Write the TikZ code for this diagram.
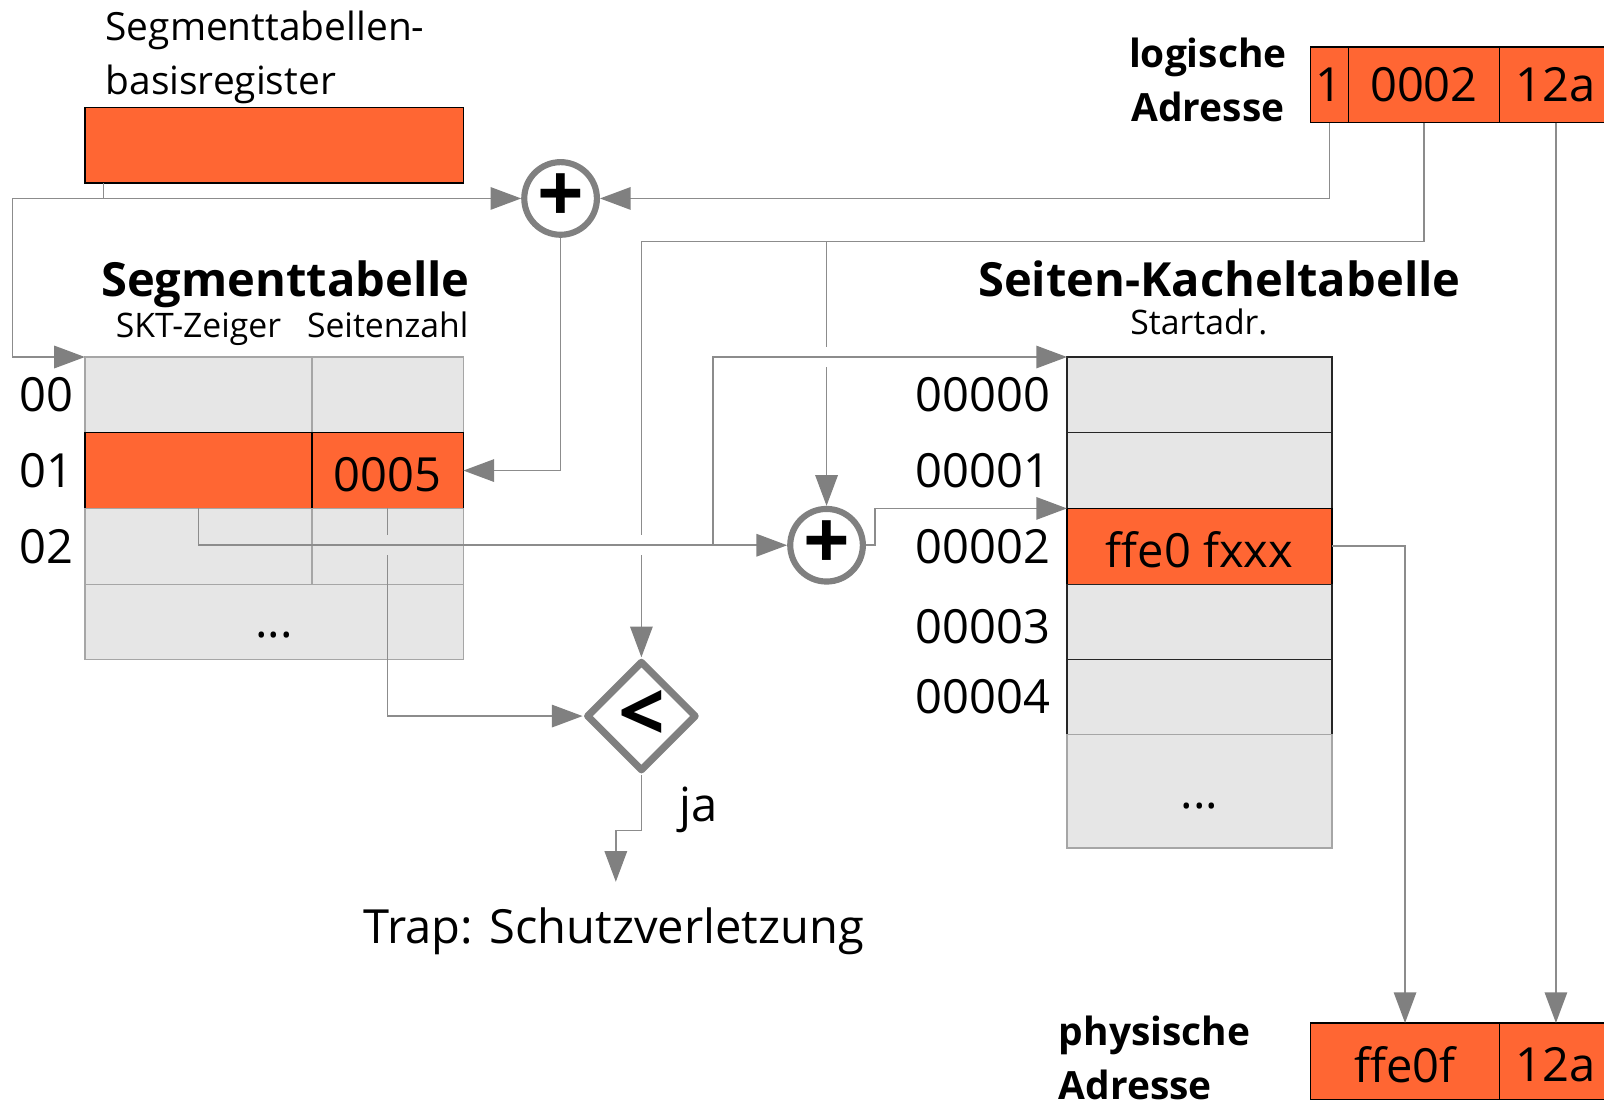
\documentclass[tikz,border=0pt]{standalone}
\usepackage{fontspec}
\setmainfont{Open Sans}
\usetikzlibrary{positioning,shapes.geometric,arrows.meta}

\definecolor{hotorange}{HTML}{FF6633}
\definecolor{linegray}{HTML}{8C8C8C}
\definecolor{tipgray}{HTML}{808080}
\definecolor{cellgray}{HTML}{E6E6E6}
\definecolor{edgegray}{HTML}{A6A6A6}

\newcommand\fbig{\fontsize{46}{55}\selectfont}
\newcommand\fmid{\fontsize{38}{53}\selectfont}
\newcommand\fsmall{\fontsize{33}{40}\selectfont}
\newcommand\fsym{\fontsize{80}{80}\selectfont\bfseries}

\begin{document}
\begin{tikzpicture}[x=1pt, y=-1pt,
    cell/.style={draw=edgegray, fill=cellgray, line width=1.2pt, inner sep=0pt, outer sep=0pt,
                 anchor=north west, minimum height=74pt, font=\fbig},
    hot/.style={cell, draw=black, fill=hotorange},
    pcell/.style={cell, draw=black!85},
    txt/.style={inner sep=0pt, font=\fbig},
    op/.style={circle, draw=tipgray, line width=6pt, fill=white, minimum size=71pt,
               inner sep=0pt, font=\fsym},
    cmpbox/.style={diamond, draw=tipgray, line width=7pt, line join=round, fill=white,
                   minimum width=108pt, minimum height=108pt, inner sep=0pt, font=\fsym},
    link/.style={draw=linegray, line width=1.5pt},
    arr/.style={-{Triangle[length=30pt,width=22pt,color=tipgray]}}]
    \useasboundingbox (0,0) rectangle (1568,1075);

    % register and logical address
    \node[hot, minimum width=370pt] (reg) at (83,105) {};
    \node[txt, font=\fmid, align=left, anchor=south west] at (103,102) {Segmenttabellen-\\basisregister};
    \node[hot, minimum width=37pt] (la) at (1281,46) {1};
    \node[hot, minimum width=148pt] (lb) at (1318,46) {0002};
    \node[hot, minimum width=110pt] (lc) at (1466,46) {12a};
    \node[txt, font=\fmid\bfseries, align=center, left=23pt of la, yshift=5pt] {logische\\Adresse};

    % segment table
    \node[txt, font=\fbig\bfseries, anchor=base] at (279,290) {Segmenttabelle};
    \node[txt, font=\fsmall, anchor=base] at (194,330) {SKT-Zeiger};
    \node[txt, font=\fsmall, anchor=base] at (379,330) {Seitenzahl};
    \node[cell, minimum width=222pt] (s0a) at (83,349) {};
    \node[cell, minimum width=148pt] (s0b) at (305,349) {};
    \node[hot, minimum width=222pt] (s1a) at (83,423) {};
    \node[hot, minimum width=148pt] (s1b) at (305,423) {};
    \node[txt] at ([yshift=-4pt]s1b.center) {0005};
    \node[cell, minimum width=222pt] (s2a) at (83,497) {};
    \node[cell, minimum width=148pt] (s2b) at (305,497) {};
    \node[cell, minimum width=370pt] (s3) at (83,571) {};
    \node[txt] at ([yshift=-13pt]s3.center) {...};
    \node[txt, left=11pt of s0a] {00};
    \node[txt, left=11pt of s1a] {01};
    \node[txt, left=11pt of s2a] {02};

    % page table
    \node[txt, font=\fbig\bfseries, anchor=base] at (1192,290) {Seiten-Kacheltabelle};
    \node[txt, font=\fsmall, anchor=base] at (1172,327) {Startadr.};
    \node[pcell, minimum width=259pt] (p0) at (1043,349) {};
    \node[pcell, minimum width=259pt] (p1) at (1043,423) {};
    \node[hot, minimum width=259pt] (p2) at (1043,497) {};
    \node[txt] at ([yshift=-3pt]p2.center) {ffe0 fxxx};
    \node[pcell, minimum width=259pt] (p3) at (1043,571) {};
    \node[pcell, minimum width=259pt, minimum height=73pt] (p4) at (1043,645) {};
    \node[cell, minimum width=259pt, minimum height=111pt] (p5) at (1043,718) {};
    \node[txt] at ([yshift=-14pt]p5.center) {...};
    \node[txt, left=16pt of p0] {00000};
    \node[txt, left=16pt of p1] {00001};
    \node[txt, left=16pt of p2] {00002};
    \node[txt, left=16pt of p3, yshift=-5pt] {00003};
    \node[txt, left=16pt of p4] {00004};

    % physical address
    \node[hot, minimum width=185pt, minimum height=75pt] (pa) at (1281,1000) {};
    \node[hot, minimum width=110pt, minimum height=75pt] (pb) at (1466,1000) {};
    \node[txt] at ([yshift=-3pt]pa.center) {ffe0f};
    \node[txt] at ([yshift=-3pt]pb.center) {12a};
    \node[txt, font=\fmid\bfseries, align=left, anchor=west] at (1035,1034) {physische\\Adresse};

    % adders and compare
    \node[op] (add1) at (548,194) {+};
    \node[op] (add2) at (808,533) {+};
    \node[cmpbox] (cmp) at (627,700) {<};
    \node[txt] at (683,792) {ja};
    \node[txt, anchor=base] (trap) at (600,922) {Trap: Schutzverletzung};

    % connectors
    \coordinate (regout) at (101,194);
    \coordinate (base) at (12,194);
    \coordinate (bus) at (808,236);
    \coordinate (fork) at (697,533);
    \coordinate (yes) at (602,812);
    \coordinate (trapin) at (602,862);
    \draw[link,arr] (regout |- reg.south) -- (regout) -- (add1.west);
    \draw[link,arr] (regout) -- (base) |- (s0a.north west);
    \draw[link,arr] (la.south) |- (add1.east);
    \draw[link,arr] (add1.south) |- (s1b.east);
    \draw[link] (lb.south) |- (bus);
    \draw[link,arr] (bus) -| (cmp.north);
    \draw[link,arr] (bus) -- (add2.north);
    \draw[link,arr] (s1b.south) |- (cmp.west);
    % gaps where lines cross
    \fill[white] (808,349) ++(-5,-10) rectangle ++(10,20);
    \fill[white] (627,533) ++(-5,-10) rectangle ++(10,20);
    \fill[cellgray] (379,533) ++(-5,-10) rectangle ++(10,20);
    \draw[link,arr] (s1a.south) |- (add2.west);
    \draw[link,arr] (fork) |- (p0.north west);
    \draw[link,arr] (add2.east) -- ++(9,0) |- (p2.north west);
    \draw[link,arr] (p2.east) -| (pa.north);
    \draw[link,arr] (lc.south) -- (pb.north);
    \draw[link,arr] (cmp.south) |- (yes) -- (trapin);
\end{tikzpicture}
\end{document}
